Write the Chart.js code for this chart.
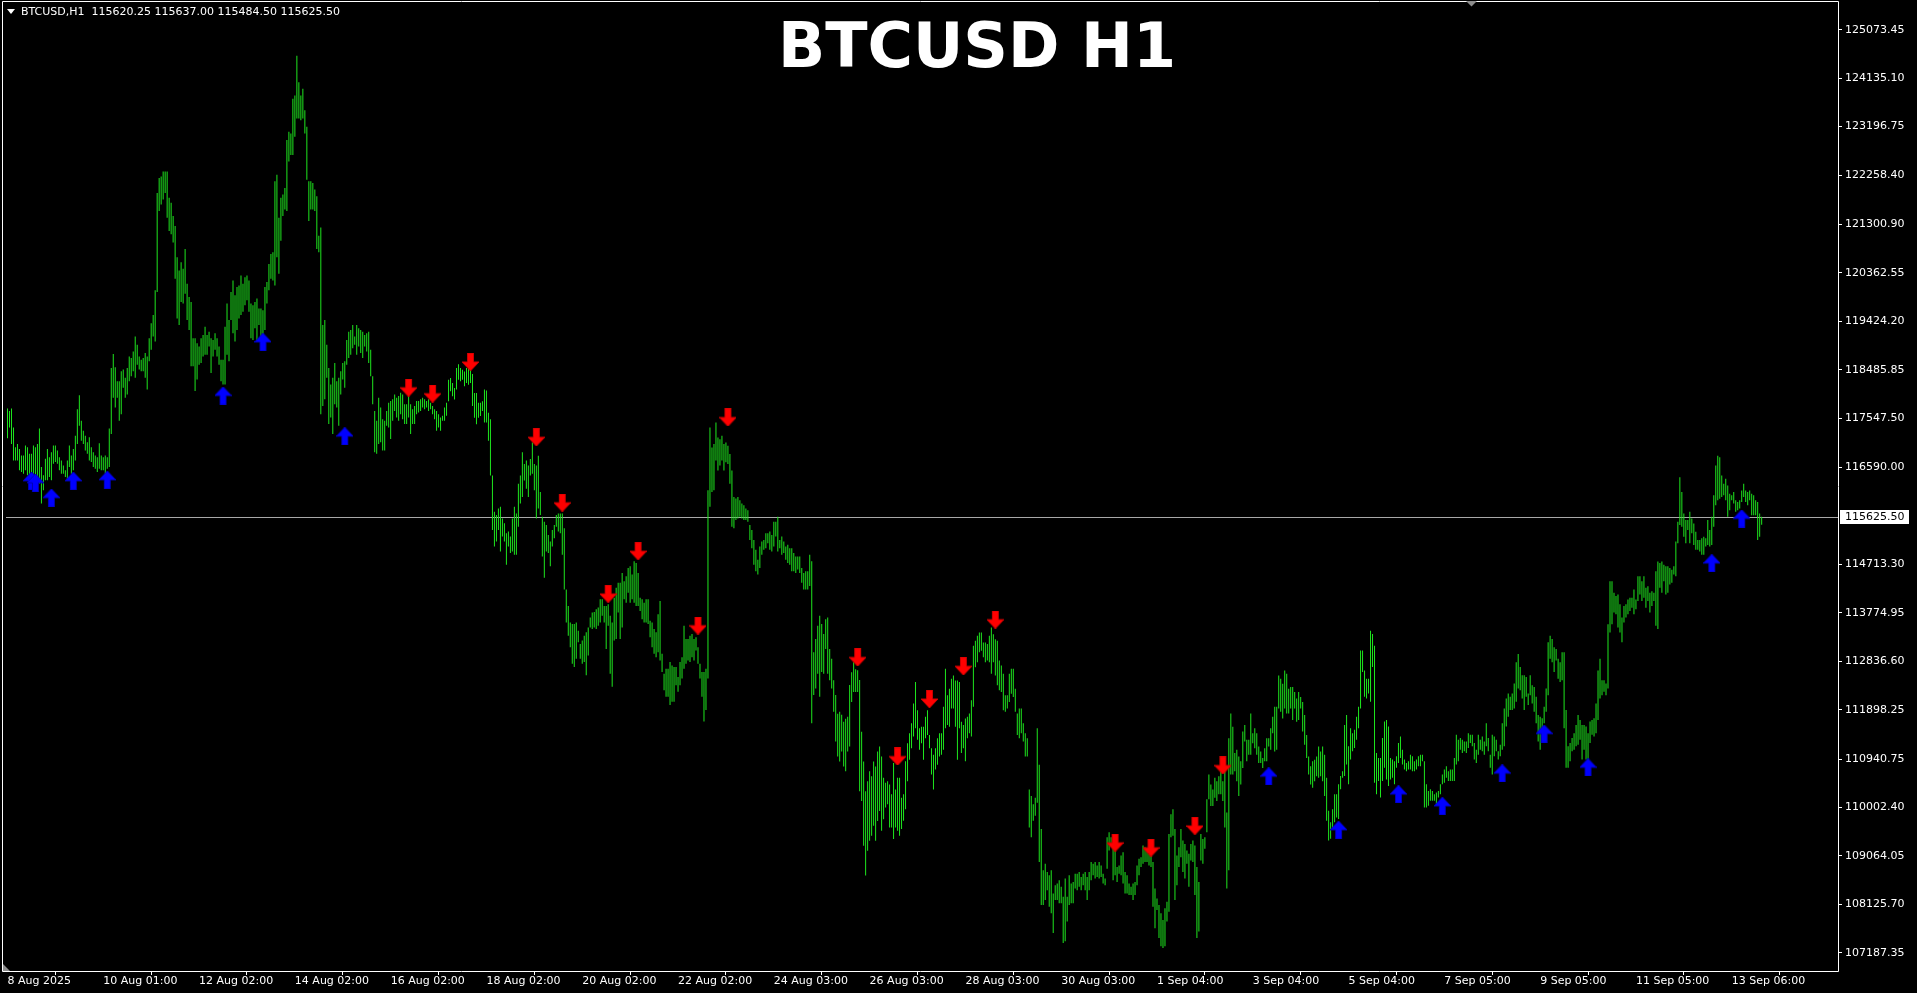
<!DOCTYPE html>
<html lang="en">
<head>
<meta charset="utf-8">
<title>BTCUSD H1</title>
<script src="https://cdn.jsdelivr.net/npm/chart.js@4"></script>
<style>
  html, body { margin: 0; padding: 0; background: #000; overflow: hidden; }
  canvas { display: block; }
</style>
</head>
<body>
<canvas id="btcChart" width="1917" height="993"></canvas>
<script>
// hourly bars, high and low of each bar, oldest first
const hi = [
117733,117688,117733,117368,116984,117048,116952,116824,116824,117016,
116984,116856,116856,117016,116984,117048,117349,116600,116440,116760,
116952,116792,116888,117016,117016,116920,116792,116728,116632,116536,
116728,117016,116824,116952,117208,117720,117989,117496,117304,117208,
117080,117176,116984,116888,116824,116792,117061,116824,116792,116824,
116792,117349,118520,118789,118533,118264,118264,118456,118488,118328,
118520,118744,118712,118840,119128,118968,118744,118680,118712,118808,
118744,119096,119384,119544,120024,121912,122200,122232,122328,122328,
122328,121816,121720,121464,121272,120664,120408,120568,120440,120824,
120152,119896,119800,119096,119096,119000,118936,119096,119160,119320,
119160,119224,119096,119064,119192,119096,118936,118680,118680,119320,
119768,119448,119992,120216,119928,120088,120120,120312,120152,120280,
120312,120216,119768,119736,119800,119864,119672,119672,119640,120088,
120184,120536,120728,120760,122136,122264,121432,121816,121880,122008,
122936,123096,123064,123736,123800,124568,124056,123800,123928,123512,
123192,122136,122136,122104,121976,121848,121080,121240,119352,119448,
118968,118520,118200,118328,118616,118264,118328,118456,118616,118648,
119064,119224,119256,119352,119128,119352,119288,119256,119224,119160,
119192,119224,118872,118360,117688,117496,117944,117752,117528,117496,
117688,117848,117880,117912,118008,117944,117976,118040,118008,117816,
117816,118008,117816,117720,117784,117880,117880,117912,117944,117912,
117880,117912,117848,117784,117720,117688,117624,117560,117592,117752,
117848,118293,118325,118229,118133,118517,118594,118517,118485,118453,
118517,118517,118485,118402,118037,118037,117845,117845,117877,118101,
118082,117653,117525,116437,115733,115669,115797,115829,115605,115509,
115317,115349,115253,115605,115829,115701,116277,116437,116885,116661,
116725,116629,116757,117077,116661,116629,116821,116117,115637,115541,
115477,115285,115157,115381,115477,115669,115701,115701,115701,115413,
114229,113909,113589,113557,113557,113589,113429,113173,113237,113333,
113397,113493,113685,113781,113794,113845,113877,114037,114037,113909,
113909,113941,113717,113589,114069,114261,114357,114357,114549,114389,
114485,114645,114677,114517,114773,114741,114549,114069,114037,113973,
114037,114037,113621,113589,113461,113397,113749,114005,112981,112597,
112693,112693,112821,112757,112725,112725,112533,112821,112917,113525,
113269,113269,113333,113365,113269,113301,113109,112789,112629,112629,
112693,116149,117365,116981,117045,117461,117173,117141,117205,117045,
117077,117013,116853,116533,116021,115989,116021,115957,115893,115861,
115797,115765,115477,115381,115189,114997,114805,115061,115157,115189,
115317,115317,115349,115285,115541,115541,115637,115189,115253,115157,
115061,115093,115029,115029,114933,114869,114869,114869,114645,114549,
114581,114581,114901,114773,113013,113269,113525,113717,113557,113365,
113653,113685,113077,112885,112469,112184,111818,111857,111799,111665,
111722,111761,112376,112626,112817,112683,112664,112472,111473,110896,
110320,110512,110704,110608,110896,110800,111088,111184,110992,110578,
110482,110514,110450,110258,110866,110354,110578,110578,110194,110258,
110898,111250,111442,111634,112018,112434,111890,111538,111570,111570,
111762,111890,111410,111154,111026,111154,111346,111442,111442,111954,
112690,112178,112306,112498,112562,112466,112466,112434,111666,111602,
111730,111762,111826,112082,113138,113234,113330,113394,113394,113202,
113202,113170,113330,113490,113362,113266,113234,112850,112754,112594,
112178,112178,112594,112690,112690,112306,111826,111922,111922,111634,
111442,111346,110354,110226,110066,110194,111538,110834,109586,108786,
108914,108754,108690,108786,108338,108498,108530,108594,108466,108274,
108626,108274,108690,108530,108562,108722,108722,108754,108658,108722,
108754,108658,108754,108946,108914,108946,108882,108946,108882,108722,
108626,109426,109522,109426,109234,109170,108850,108882,109074,109138,
108754,108690,108530,108466,108530,108562,108882,109010,109042,109266,
109234,109170,109106,109074,108946,108434,108242,108114,107954,107826,
108050,108178,109490,109874,109970,109586,109074,109234,109586,109362,
109298,109170,109106,109298,109362,109266,108850,108562,109490,109394,
109426,110162,110642,110450,110354,110578,110514,110610,110706,110514,
110834,109906,111346,111826,111570,111058,111122,110994,110898,111474,
111602,111314,111314,111826,111442,111538,111442,111186,111090,110962,
111154,111346,111346,111538,111762,111954,111954,112562,112498,112402,
112658,112594,112306,112338,112338,112242,112114,112242,112146,112050,
111794,111410,110994,110802,110898,110930,110994,111186,111090,111186,
111026,110580,109940,109716,109972,110260,110260,110452,110612,110708,
111604,111796,111188,111540,111444,111508,111764,111956,113044,113044,
112660,112500,112500,113428,113364,113140,111060,110964,110964,111348,
111668,111700,111572,110964,110932,110900,110996,111252,111380,111124,
110932,110868,110900,111028,110996,110900,110932,110996,111028,111028,
110900,110452,110324,110356,110324,110260,110292,110324,110452,110644,
110740,110804,110708,110740,110740,110964,111412,111316,111348,111316,
111284,111284,111444,111412,111412,111252,111124,111412,111316,111380,
111284,111636,111348,111028,111412,111380,111316,111092,111220,111636,
111924,112116,112212,112148,112212,112404,112820,112980,112724,112564,
112564,112532,112212,112564,112372,112340,112148,111796,111764,111732,
111956,112308,113204,113332,113268,113108,113076,112884,112820,113012,
113012,111892,111188,111252,111348,111444,111604,111796,111700,111604,
111604,111572,111444,111668,111700,111732,112020,112660,112884,112468,
112468,112404,113556,114388,114388,114164,114100,114132,113940,113684,
113908,113940,114036,114068,114068,114228,114036,114484,114484,114388,
114484,114260,114292,114164,114196,114164,114580,114772,114740,114772,
114708,114676,114676,114644,114612,114676,115156,115540,116404,116116,
115700,115572,115572,115732,115604,115508,115348,115188,115188,115220,
115252,115220,115572,115380,115636,116052,116628,116820,116788,116436,
116276,116372,116244,116084,116052,116116,115956,115924,115956,116148,
116276,116148,116116,116148,116084,116052,115956,115924,115700,115637
];
const lo = [
117157,117368,117048,116728,116728,116728,116536,116504,116472,116536,
116440,116408,116344,116472,116408,116344,116280,115896,116152,116344,
116344,116408,116344,116664,116696,116664,116536,116472,116472,116408,
116344,116600,116472,116536,116728,117048,117400,117112,117048,116920,
116856,116728,116696,116600,116568,116504,116568,116536,116536,116472,
116568,116600,117240,117944,117752,117944,117496,117624,118136,117944,
118008,118264,118360,118456,118328,118584,118488,118456,118456,118328,
118104,118648,118872,119128,119032,119992,121560,121688,121784,121912,
121432,121176,121112,120952,120248,119480,119352,119800,119768,119960,
119448,119256,118552,118552,118072,118296,118584,118616,118744,118776,
118776,118936,118424,118744,118872,118744,118584,118264,118200,118200,
118776,118648,119448,119192,119032,119256,119480,119544,119608,119736,
119832,119608,119096,119064,119288,119032,119352,119096,118968,119256,
119768,120024,120248,120216,120120,120664,120344,120984,121464,121592,
121560,122520,122648,122648,123000,123352,123352,123320,123352,123064,
122168,121368,121592,121592,121560,120824,120760,117624,117784,117912,
118328,117432,117560,117240,117816,117752,117400,118008,118296,118136,
118584,118712,118776,118904,118968,118776,118936,118808,118712,118936,
118840,118616,118360,117816,116888,116856,117048,117080,116920,116920,
117400,117368,117144,117496,117688,117560,117496,117624,117528,117432,
117432,117560,117240,117432,117432,117624,117656,117688,117752,117720,
117752,117688,117720,117624,117528,117304,117368,117304,117496,117496,
117592,117877,118069,117973,117909,118101,118293,118261,118293,118165,
118229,118197,118229,117781,117557,117429,117557,117589,117685,117461,
117461,117109,116437,115381,115061,115157,115381,114965,115253,115157,
114709,115061,114933,114965,114901,114901,115445,115893,116021,116341,
116181,116021,116437,116469,116149,115605,115797,115669,114869,114453,
114965,114933,114677,115061,115221,115445,115349,115317,114901,114229,
113589,113333,113109,112789,112725,112885,113205,112885,112789,112821,
112565,112949,113493,113461,113493,113461,113525,113589,113717,113589,
113077,113525,112597,112341,113237,113269,113781,113269,113493,114037,
113973,114165,113973,114037,113973,113909,113909,113813,113653,113589,
113589,113557,113301,113109,112981,112917,113013,112853,112629,112277,
112149,112149,111989,112053,112053,112373,112245,112373,112501,112693,
112789,112853,112821,112917,112853,113045,112789,112501,112149,111669,
111893,112501,115829,116117,116149,116725,116533,116629,116725,116533,
116693,116661,116277,115445,115413,115573,115605,115637,115605,115573,
115573,115541,115189,115029,114709,114581,114517,114645,114901,114997,
115029,115125,114997,114965,115061,115253,114965,115029,114901,114933,
114805,114741,114709,114581,114581,114549,114613,114549,114357,114229,
114229,114229,114293,111637,112181,112309,112597,112149,112629,112597,
113077,112597,112469,112309,111861,111280,110992,110896,111088,110800,
110704,111088,111184,112049,112241,112241,112241,110320,110128,109263,
108687,109167,109360,109456,109648,109360,109744,109936,109552,109778,
110002,110066,109618,109618,109394,109618,109554,109458,109586,109746,
109970,110514,110930,111154,111378,111538,111314,111122,111250,110930,
111346,111410,111154,110642,110354,110738,110834,110994,111026,111122,
111538,111602,111570,111922,111922,111570,110930,111538,111058,111154,
110898,111346,111442,111378,111954,112722,112818,113010,113042,112914,
112818,112850,112818,112594,112818,112562,112370,112274,112242,111890,
111858,111922,112050,112210,112146,111858,111410,111346,111442,111282,
110994,110994,109618,109426,109746,109842,110098,108946,108114,108114,
108210,108402,108082,107954,107570,108210,108210,108146,108146,107378,
107410,107794,108114,108146,108146,108434,108402,108466,108402,108498,
108402,108210,108402,108594,108690,108626,108658,108626,108658,108530,
108498,108818,109170,109266,108594,108690,108562,108722,108690,108530,
108338,108338,108306,108306,108210,108306,108498,108690,108850,108914,
108946,108946,108882,108850,108082,107666,108018,107474,107314,107282,
107314,107794,107986,109426,109458,108210,108498,108850,109042,108754,
108626,108914,108466,108978,108946,108306,107474,107602,108978,108914,
109202,109522,110162,110034,110034,110194,110130,110258,110258,110130,
109618,108434,108786,110642,110642,110706,110514,110226,110450,110770,
111282,110898,111026,111026,111250,111154,111026,110866,110866,110770,
110898,110898,111186,111122,111442,111090,111122,111922,111858,111730,
111922,111826,111826,111922,111698,111922,111666,111698,111922,111474,
111218,110962,110642,110450,110386,110514,110610,110578,110610,110514,
110226,109748,109364,109396,109588,109716,109812,109780,110356,110580,
110612,110836,110452,110932,111092,111156,111316,111540,111924,112628,
112148,112116,112212,112052,112724,110484,110260,110516,110196,110516,
110772,110548,110420,110548,110580,110452,110772,110868,110964,110836,
110740,110708,110740,110740,110708,110708,110740,110804,110804,110900,
110004,110004,110036,110132,110132,110132,110068,110196,110260,110452,
110484,110580,110516,110516,110516,110516,110836,110900,111124,111060,
111092,111060,111156,111252,111188,110932,110868,111028,111124,111092,
111028,111188,111092,110772,110644,110996,111092,110932,110996,111124,
111188,111572,111764,111892,111892,111924,112052,112308,112276,112116,
111892,112148,111988,112180,112020,111860,111636,111284,111124,111284,
111636,111860,112180,112884,112820,112628,112852,112500,112436,112468,
111540,110772,110772,110900,111092,111124,111188,111220,111316,110932,
111124,110932,110900,111252,111412,111380,111444,111700,112116,112180,
112244,112180,112308,113396,113556,113780,113748,113492,113396,113204,
113588,113684,113748,113812,113876,113748,113844,114004,114132,114004,
114068,113876,114004,113780,113908,114004,113524,113460,114260,114164,
114388,114132,114164,114324,114356,114516,114484,115124,115476,115444,
115252,115124,115380,115124,115316,115092,114996,114996,114964,114900,
114900,115060,115092,115060,115092,115444,115860,115956,115988,116020,
116052,115956,115636,115764,115956,115892,115732,115764,115796,115924,
116020,115924,115860,115956,115668,115668,115668,115188,115252,115484.5
];

// signal arrows: bar index and price where each arrow sits
const upIdx = [12, 14, 22, 33, 50, 108, 128, 169, 632, 667, 697, 719, 749, 770, 792, 854, 869];
const upPrice = [116333, 116295, 116006, 116333, 116352, 117985, 119022, 117197, 110608, 109571, 110262, 110032, 110666, 111434, 110781, 114738, 115603];
const downIdx = [201, 213, 232, 265, 278, 301, 316, 346, 361, 426, 446, 462, 479, 495, 555, 573, 595, 609];
const downPrice = [118139, 118023, 118638, 117178, 115910, 114143, 114970, 113528, 117562, 112913, 110992, 112106, 112741, 113644, 109321, 109225, 109648, 110819];

// last bar open/high/low/close shown in the header
const lastOhlc = [115620.25, 115637.00, 115484.50, 115625.50];

// axis labels
const yTickVals = [125073.45, 124135.10, 123196.75, 122258.40, 121300.90, 120362.55, 119424.20, 118485.85, 117547.50, 116590.00,
                   114713.30, 113774.95, 112836.60, 111898.25, 110940.75, 110002.40, 109064.05, 108125.70, 107187.35];
const xTickIdx = [0, 48, 96, 144, 192, 240, 288, 336, 384, 432, 480, 528, 576, 624, 672, 720, 768, 816, 864];
const xTickLabels = ['8 Aug 2025', '10 Aug 01:00', '12 Aug 02:00', '14 Aug 02:00', '16 Aug 02:00', '18 Aug 02:00',
                     '20 Aug 02:00', '22 Aug 02:00', '24 Aug 03:00', '26 Aug 03:00', '28 Aug 03:00', '30 Aug 03:00',
                     '1 Sep 04:00', '3 Sep 04:00', '5 Sep 04:00', '7 Sep 05:00', '9 Sep 05:00', '11 Sep 05:00', '13 Sep 06:00'];

const FONT = '"DejaVu Sans", sans-serif';

// thick arrow glyph, 17x18, as a point style image
function makeArrow(color, edge, up) {
    const c = document.createElement('canvas');
    c.width = 17;
    c.height = 18;
    const g = c.getContext('2d');
    if (!up) { g.translate(0, 18); g.scale(1, -1); }
    g.beginPath();
    g.moveTo(8.5, 0);
    g.lineTo(17, 9);
    g.lineTo(11.5, 9);
    g.lineTo(11.5, 18);
    g.lineTo(5.5, 18);
    g.lineTo(5.5, 9);
    g.lineTo(0, 9);
    g.closePath();
    g.fillStyle = color;
    g.fill();
    g.strokeStyle = edge;
    g.lineWidth = 1;
    g.stroke();
    return c;
}

const bars = hi.map((h, i) => ({ x: i, y: [lo[i], h] }));
const upPoints = upIdx.map((x, i) => ({ x: x, y: upPrice[i] }));
const downPoints = downIdx.map((x, i) => ({ x: x, y: downPrice[i] }));

const mt4Look = {
    id: 'mt4Look',
    beforeDraw(chart) {
        const ctx = chart.ctx;
        ctx.save();
        ctx.fillStyle = '#000';
        ctx.fillRect(0, 0, chart.width, chart.height);
        ctx.restore();
    },
    beforeDatasetsDraw(chart) {
        // bid line at the last close
        const ctx = chart.ctx;
        const area = chart.chartArea;
        const y = Math.round(chart.scales.y.getPixelForValue(lastOhlc[3])) + 0.5;
        ctx.save();
        ctx.strokeStyle = '#a8a8a8';
        ctx.lineWidth = 1;
        ctx.beginPath();
        ctx.moveTo(area.left, y);
        ctx.lineTo(area.right, y);
        ctx.stroke();
        ctx.restore();
    },
    afterDraw(chart) {
        const ctx = chart.ctx;
        const area = chart.chartArea;
        ctx.save();

        // frame
        ctx.strokeStyle = '#fff';
        ctx.lineWidth = 1;
        ctx.beginPath();
        ctx.moveTo(2.5, 1.5); ctx.lineTo(area.right + 0.5, 1.5);
        ctx.lineTo(area.right + 0.5, area.bottom + 0.5);
        ctx.lineTo(2.5, area.bottom + 0.5);
        ctx.closePath();
        ctx.stroke();

        // price box for the last close
        const yb = Math.round(chart.scales.y.getPixelForValue(lastOhlc[3]));
        ctx.fillStyle = '#fff';
        ctx.fillRect(area.right + 2, yb - 7, 69, 14);
        ctx.fillStyle = '#000';
        ctx.font = '11px ' + FONT;
        ctx.textBaseline = 'middle';
        ctx.textAlign = 'left';
        ctx.fillText(lastOhlc[3].toFixed(2), area.right + 7, yb + 0.5);

        // header line
        ctx.fillStyle = '#fff';
        ctx.beginPath();
        ctx.moveTo(7, 9); ctx.lineTo(15, 9); ctx.lineTo(11, 14);
        ctx.closePath();
        ctx.fill();
        ctx.fillText('BTCUSD,H1  ' + lastOhlc.map(v => v.toFixed(2)).join(' '), 21, 12.5);

        // title
        ctx.font = 'bold 62px ' + FONT;
        ctx.textAlign = 'center';
        ctx.textBaseline = 'alphabetic';
        ctx.fillText('BTCUSD H1', 977, 67);

        // small shift markers
        ctx.fillStyle = '#8c8c8c';
        ctx.beginPath();
        ctx.moveTo(1466, 1); ctx.lineTo(1477, 1); ctx.lineTo(1471.5, 6.5);
        ctx.closePath();
        ctx.fill();
        ctx.beginPath();
        ctx.moveTo(3, 964); ctx.lineTo(3, 971); ctx.lineTo(10, 971);
        ctx.closePath();
        ctx.fill();

        ctx.restore();
    }
};

const ctx = document.getElementById('btcChart').getContext('2d');
const chart = new Chart(ctx, {
    type: 'bar',
    data: {
        datasets: [
            {
                type: 'scatter',
                data: upPoints,
                pointStyle: makeArrow('#0000ff', '#0000b4', true),
                pointRadius: 5,
                order: 0
            },
            {
                type: 'scatter',
                data: downPoints,
                pointStyle: makeArrow('#ff0000', '#c80000', false),
                pointRadius: 5,
                order: 0
            },
            {
                type: 'bar',
                data: bars,
                backgroundColor: '#1ee61e',
                borderWidth: 0,
                inflateAmount: 0,
                barThickness: 1,
                order: 2
            }
        ]
    },
    options: {
        responsive: false,
        animation: false,
        events: [],
        layout: { padding: { left: 2, top: 2, right: 0, bottom: 0 } },
        plugins: {
            legend: { display: false },
            tooltip: { enabled: false }
        },
        scales: {
            x: {
                type: 'linear',
                min: -0.75,
                max: 917.25,
                offset: false,
                bounds: 'data',
                afterBuildTicks: s => { s.ticks = xTickIdx.map(v => ({ value: v })); },
                afterFit: s => { s.height = 22; },
                border: { display: false },
                grid: { drawOnChartArea: false, drawTicks: true, tickLength: 4, tickColor: '#fff' },
                ticks: {
                    callback: (v, i) => xTickLabels[i],
                    align: 'start',
                    autoSkip: false,
                    maxRotation: 0,
                    padding: 0,
                    color: '#fff',
                    font: { family: FONT, size: 11 }
                }
            },
            y: {
                type: 'linear',
                position: 'right',
                min: 106835.6,
                max: 125463.7,
                bounds: 'data',
                afterBuildTicks: s => { s.ticks = yTickVals.map(v => ({ value: v })); },
                afterFit: s => { s.width = 79; },
                border: { display: false },
                grid: { drawOnChartArea: false, drawTicks: true, tickLength: 4, tickColor: '#fff' },
                ticks: {
                    callback: v => Number(v).toFixed(2),
                    autoSkip: false,
                    padding: 3,
                    color: '#fff',
                    font: { family: FONT, size: 11 }
                }
            }
        }
    },
    plugins: [mt4Look]
});
</script>
</body>
</html>
